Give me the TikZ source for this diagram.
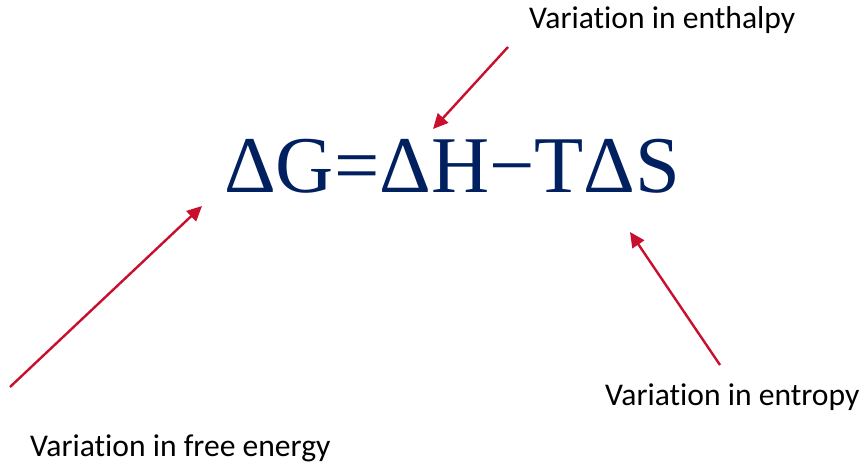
\documentclass[tikz,border=0pt]{standalone}
\usepackage{fontspec}
\setmainfont{Liberation Serif}
\newfontfamily\labelfont[Ligatures={NoCommon}]{Carlito}
\usetikzlibrary{arrows.meta}
\definecolor{navy}{RGB}{0,32,96}
\definecolor{arrred}{RGB}{200,16,46}
\tikzset{
  lbl/.style={font=\labelfont\fontsize{31.6}{36}\selectfont, text=black, inner sep=0pt, anchor=base west},
  eqn/.style={font=\fontsize{80.5}{90}\selectfont, text=navy, inner sep=0pt, anchor=base west},
  ptr/.style={draw=arrred, line width=2.4pt, -{Triangle[length=15pt,width=14pt]}}
}
\begin{document}
\begin{tikzpicture}[x=1pt,y=-1pt]
\useasboundingbox (0,0) rectangle (862,465);
\node[eqn] (eq) at (224,193) {ΔG=ΔH−TΔS};
\node[lbl] (lh) at (529,29) {Variation in enthalpy};
\node[lbl] (lg) at (30,456) {Variation in free energy};
\node[lbl] (ls) at (605,405) {Variation in entropy};
\coordinate (hs) at (508,47);
\coordinate (ht) at (433,129);
\coordinate (gs) at (10,387);
\coordinate (gt) at (202,206);
\coordinate (ss) at (720,365);
\coordinate (st) at (630,232);
\draw[ptr] (hs) -- (ht);
\draw[ptr] (gs) -- (gt);
\draw[ptr] (ss) -- (st);
\end{tikzpicture}
\end{document}
